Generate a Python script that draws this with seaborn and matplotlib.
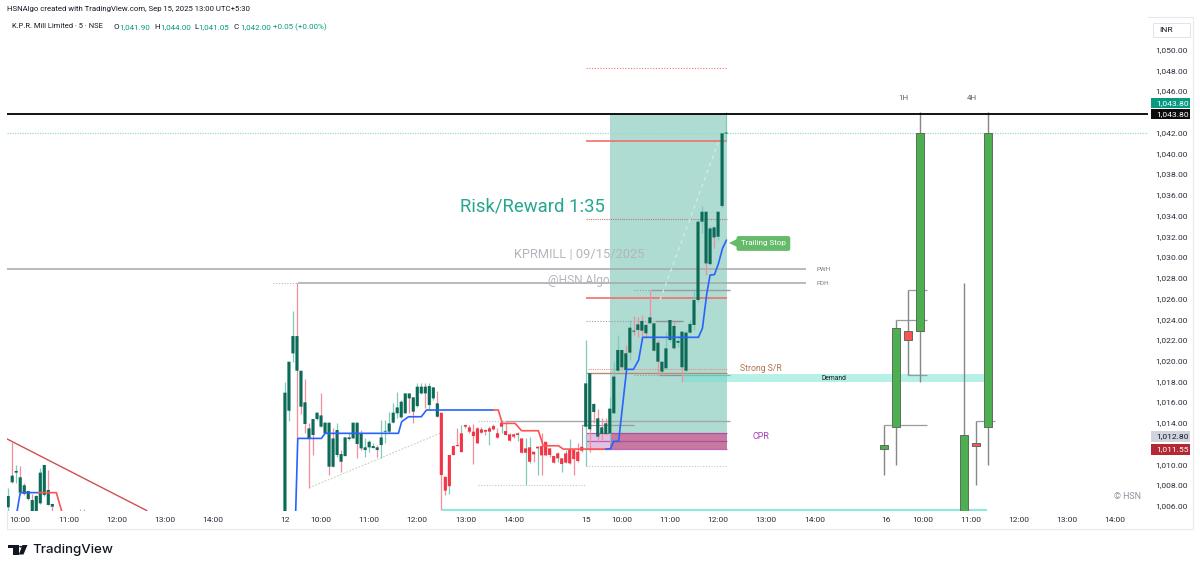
import matplotlib
matplotlib.use("Agg")
import matplotlib.pyplot as plt
from matplotlib.patches import Rectangle, Polygon, Circle
import numpy as np
import pandas as pd
import seaborn as sns

# 5 min candles, bar 0 = first bar of the 12th
d1_bars = [-69, -68, -67, -66, -65, -64, -63, -62, -61, -60, -59, -58, -51, -50]
d1_open = [1005.86, 1008.91, 1009.2, 1008.75, 1007.98, 1007.43, 1006.56, 1005.44, 1006.24, 1007.05, 1007.53, 1006.18, 1003.0, 1004.5]
d1_high = [1007.69, 1012.19, 1009.94, 1009.84, 1008.17, 1007.43, 1007.14, 1007.05, 1009.62, 1009.94, 1009.46, 1006.18, 1005.7, 1005.7]
d1_low = [1005.53, 1008.17, 1008.17, 1007.05, 1007.05, 1006.56, 1005.44, 1005.44, 1006.18, 1006.95, 1006.08, 1005.53, 1003.0, 1003.0]
d1_close = [1006.95, 1008.27, 1009.36, 1007.27, 1007.14, 1006.66, 1005.44, 1006.95, 1009.2, 1009.94, 1006.08, 1005.92, 1004.5, 1003.0]

d2_open = [1003.0, 1015.17, 1020.7, 1022.37, 1019.03, 1015.98, 1013.47, 1014.37, 1014.37, 1014.72,
           1012.99, 1014.02, 1012.5, 1010.9, 1010.99, 1010.8, 1012.44, 1012.5, 1014.02, 1012.99,
           1011.38, 1011.64, 1011.57, 1011.64, 1011.86, 1013.15, 1013.15, 1014.02, 1014.92, 1014.53,
           1014.92, 1016.84, 1016.46, 1015.62, 1016.84, 1017.49, 1015.72, 1016.36, 1015.88, 1014.98,
           1008.8, 1007.9, 1010.9, 1011.86, 1011.18, 1013.63, 1013.56, 1013.15, 1013.47, 1013.05,
           1013.31, 1013.15, 1013.37, 1013.0, 1013.63, 1013.21, 1012.89, 1012.89, 1012.83, 1012.5,
           1011.12, 1010.25, 1011.22, 1011.54, 1011.76, 1012.18, 1011.54, 1010.8, 1010.58, 1010.03,
           1010.16, 1010.09, 1011.38, 1011.22, 1011.31]
d2_high = [1017.97, 1019.9, 1024.82, 1027.45, 1019.03, 1018.2, 1014.02, 1014.37, 1015.08, 1016.91,
           1014.11, 1014.02, 1013.47, 1013.95, 1011.38, 1012.67, 1012.99, 1014.02, 1014.02, 1013.31,
           1012.5, 1012.34, 1012.02, 1011.86, 1014.27, 1014.27, 1015.08, 1015.88, 1016.94, 1016.2,
           1016.91, 1016.84, 1016.46, 1017.87, 1017.87, 1017.87, 1017.81, 1017.42, 1017.1, 1014.98,
           1008.8, 1010.9, 1011.86, 1013.47, 1013.79, 1013.89, 1013.79, 1013.89, 1013.56, 1013.56,
           1013.37, 1013.69, 1013.89, 1013.47, 1014.27, 1014.11, 1012.99, 1013.05, 1013.15, 1012.5,
           1012.5, 1012.67, 1011.22, 1011.76, 1012.99, 1012.18, 1011.54, 1010.8, 1011.22, 1010.58,
           1011.38, 1012.41, 1011.38, 1012.02, 1011.86]
d2_low = [1003.0, 1014.21, 1019.9, 1012.5, 1014.9, 1013.0, 1007.75, 1010.9, 1014.27, 1013.63,
          1012.99, 1008.97, 1009.77, 1010.74, 1009.29, 1010.8, 1012.34, 1012.5, 1010.58, 1011.38,
          1010.74, 1011.22, 1011.54, 1010.74, 1010.58, 1012.02, 1012.99, 1013.95, 1014.43, 1014.43,
          1014.92, 1014.98, 1014.02, 1015.56, 1016.77, 1015.4, 1015.3, 1016.2, 1014.59, 1005.59,
          1007.04, 1007.13, 1010.9, 1011.76, 1011.18, 1013.47, 1012.99, 1009.99, 1012.02, 1012.99,
          1012.83, 1011.86, 1013.31, 1012.5, 1012.99, 1012.83, 1012.28, 1012.5, 1012.28, 1011.12,
          1008.0, 1010.16, 1010.25, 1008.97, 1008.97, 1010.86, 1010.74, 1010.09, 1010.25, 1009.22,
          1010.09, 1010.03, 1008.97, 1010.25, 1011.22]
d2_close = [1016.91, 1019.9, 1022.37, 1019.03, 1015.56, 1013.89, 1012.44, 1012.83, 1014.98, 1013.63,
            1014.02, 1009.77, 1009.77, 1013.31, 1010.25, 1012.6, 1012.6, 1014.02, 1011.96, 1011.54,
            1011.64, 1012.18, 1011.76, 1011.38, 1012.6, 1013.21, 1013.95, 1014.98, 1015.49, 1016.04,
            1016.84, 1016.36, 1015.08, 1017.49, 1017.49, 1016.84, 1017.55, 1017.42, 1014.59, 1008.97,
            1007.46, 1010.9, 1011.76, 1011.76, 1012.99, 1013.79, 1013.15, 1012.73, 1012.02, 1013.37,
            1013.15, 1013.47, 1013.69, 1012.57, 1014.02, 1012.83, 1012.28, 1012.67, 1012.99, 1011.12,
            1011.54, 1011.64, 1010.96, 1011.7, 1010.86, 1010.86, 1010.9, 1010.16, 1011.06, 1010.58,
            1011.06, 1011.38, 1010.51, 1010.32, 1011.7]

d3_open = [1013.63, 1018.78, 1015.82, 1014.44, 1013.57, 1013.96, 1012.99, 1014.92, 1019.03, 1021.03,
           1020.71, 1020.77, 1022.89, 1023.5, 1023.83, 1023.44, 1024.18, 1023.6, 1021.73, 1018.94,
           1019.26, 1021.99, 1023.34, 1021.73, 1022.8, 1019.03, 1022.7, 1023.44, 1025.85, 1033.4,
           1034.36, 1029.31, 1032.85, 1031.95, 1034.91, 1041.9]
d3_high = [1022.0, 1018.78, 1015.88, 1015.3, 1014.44, 1014.44, 1016.53, 1019.9, 1022.48, 1021.03,
           1021.5, 1023.92, 1024.3, 1024.24, 1024.4, 1023.6, 1026.82, 1023.6, 1022.0, 1019.9,
           1022.8, 1023.92, 1023.75, 1022.5, 1022.8, 1023.0, 1023.92, 1026.9, 1033.6, 1034.9,
           1034.36, 1032.98, 1032.98, 1034.36, 1041.92, 1044.0]
d3_low = [1009.84, 1011.22, 1013.95, 1012.19, 1012.35, 1012.83, 1012.03, 1014.92, 1019.03, 1019.17,
          1019.1, 1020.06, 1022.5, 1022.31, 1022.06, 1022.15, 1023.6, 1020.96, 1018.62, 1018.84,
          1019.26, 1021.83, 1021.09, 1021.35, 1017.97, 1018.62, 1022.64, 1022.96, 1025.7, 1032.27,
          1028.25, 1029.2, 1030.82, 1031.63, 1034.8, 1041.05]
d3_close = [1017.81, 1013.38, 1015.05, 1012.67, 1012.93, 1012.93, 1015.37, 1018.46, 1021.03, 1019.36,
            1019.1, 1023.18, 1022.8, 1022.96, 1022.89, 1022.64, 1023.6, 1020.96, 1019.9, 1019.9,
            1021.19, 1023.92, 1021.19, 1021.9, 1019.36, 1022.7, 1023.54, 1025.85, 1033.4, 1034.36,
            1029.38, 1032.75, 1031.88, 1034.36, 1041.92, 1042.0]

# trailing stop pieces
blue_x = [-67, -66, -61.5]
blue_y = [1005.0, 1007.27, 1007.27]
red_x = [-61.5, -57, -55.3]
red_y = [1007.27, 1007.27, 1005.0]
blue2_x = [2.5, 3.2, 9.1, 10, 28.3, 29.1, 30.8, 34, 35.3, 52]
blue2_y = [1003.0, 1012.5, 1012.5, 1012.99, 1012.99, 1014.11, 1014.59, 1014.59, 1015.24, 1015.24]
red2_x = [52, 53.2, 54.2, 57.4, 59, 63.2, 64.4, 68.2, 69.4, 80]
red2_y = [1015.24, 1015.24, 1013.95, 1013.95, 1013.24, 1013.24, 1011.79, 1011.79, 1011.47, 1011.47]
blue3_x = [80, 81.2, 82, 83.2, 85.2, 86.9, 88.2, 89.2, 103.1, 104.1, 105.2, 106, 107.1, 108.1, 109.1, 110.1]
blue3_y = [1011.47, 1011.51, 1012.22, 1012.22, 1019.16, 1019.16, 1020.06, 1022.25, 1022.25, 1023.12,
           1026.5, 1028.25, 1028.3, 1029.37, 1030.82, 1031.63]

# higher timeframe candles on the right
htf_x = [149.3, 152.3, 155.3, 158.3, 169.3, 172.2, 175.2]
htf_open = [1011.5, 1013.64, 1022.9, 1022.86, 1005.0, 1012.05, 1013.64]
htf_close = [1011.85, 1023.15, 1021.95, 1042.0, 1012.8, 1011.8, 1042.0]
htf_high = [1013.8, 1023.9, 1026.8, 1044.0, 1027.45, 1014.2, 1044.0]
htf_low = [1009.0, 1009.9, 1018.65, 1017.97, 1005.0, 1008.0, 1009.9]

price_ticks = [1006, 1008, 1010, 1014, 1016, 1018, 1020, 1022, 1024, 1026, 1028, 1030,
               1032, 1034, 1036, 1038, 1040, 1042, 1046, 1048, 1050]
time_ticks = [-66, -54, -42, -30, -18, 0, 9, 21, 33, 45, 57, 75, 84, 96, 108, 120, 132,
              150, 159, 171, 183, 195, 207]
time_labels = ["10:00", "11:00", "12:00", "13:00", "14:00", "12", "10:00", "11:00", "12:00", "13:00", "14:00",
               "15", "10:00", "11:00", "12:00", "13:00", "14:00", "16", "10:00", "11:00", "12:00", "13:00", "14:00"]

W, H = 1200, 569
TEAL = "#089981"
DARK = "#0b6b58"
RED = "#f23645"
WICK_UP = "#7fcbb8"
WICK_DN = "#f58e98"
GREY = "#a9abb0"

sns.set_theme(style="white")
plt.rcParams["font.family"] = ["Roboto", "DejaVu Sans"]

fig = plt.figure(figsize=(12, 5.69), dpi=100, facecolor="white")
ax = fig.add_axes([7 / W, 1 - 511 / H, (1148 - 7) / W, (511 - 17) / H])
ax.set_xlim(-69.3, 215.2)
ax.set_ylim(1005.5, 1053.14)
for s in ax.spines.values():
    s.set_visible(False)
ax.yaxis.tick_right()
ax.set_yticks(price_ticks)
ax.set_yticklabels([f"{p:,.2f}" for p in price_ticks])
ax.set_xticks(time_ticks)
ax.set_xticklabels(time_labels)
ax.tick_params(axis="y", length=0, pad=5.2, labelsize=6.1, labelcolor="#2a2e39")
ax.tick_params(axis="x", length=0, pad=4.5, labelsize=6.1, labelcolor="#2a2e39")
ax.grid(False)


def level(y, x0, x1, color=GREY, lw=1.0, ls="-", z=2, alpha=1):
    ax.plot([x0, x1], [y, y], color=color, lw=lw, ls=ls, zorder=z, alpha=alpha, solid_capstyle="butt")


def trail(x, y, color):
    df = pd.DataFrame({"bar": x, "stop": y})
    sns.lineplot(data=df, x="bar", y="stop", ax=ax, color=color, lw=1.2, sort=False, estimator=None, zorder=6)


# zones
ax.add_patch(Rectangle((81.1, 1011.55), 110.2 - 81.1, 1043.8 - 1011.55, color="#aedbd2", lw=0, zorder=1))
ax.add_patch(Rectangle((75, 1011.5), 81.1 - 75, 1.5, color="#e2c0e2", lw=0, zorder=3))
ax.add_patch(Rectangle((81.1, 1011.5), 110.2 - 81.1, 1.5, color="#c77a9f", lw=0, zorder=3))
ax.add_patch(Rectangle((99.3, 1017.97), 174.6 - 99.3, 0.71, color="#6fe3d0", alpha=0.5, lw=0, zorder=3))
for y in [1013.0, 1012.25, 1011.5]:
    level(y, 75, 110.2, color="#a83aa8", lw=0.9, z=3, alpha=0.75)

# levels
level(1043.8, -69.3, 215.2, color="black", lw=1.3, z=8)
level(1042.0, -69.3, 215.2, color="#9fd8cb", lw=0.9, ls=(0, (1, 1)), z=2)
level(1048.2, 75, 110.2, color="#f0736f", lw=0.8, ls=(0, (1, 1.5)))
level(1033.63, 75, 110.2, color="#c07a70", lw=0.8, ls=(0, (1, 1)))
level(1041.2, 75, 110.2, color="#f2706c", lw=1.2)
level(1026.07, 75, 110.2, color="#f2706c", lw=1.2)
level(1028.84, -69.3, 130, color="#a5a7ad", lw=1.1)
level(1027.45, 3.2, 130, color="#a5a7ad", lw=1.1)
level(1027.45, -3, 3.2, color="#b5b7bc", lw=0.8, ls=(0, (1, 1.5)))
level(1026.82, 91.3, 111, color="#9a9ca3", lw=1.0)
level(1026.82, 87, 91.3, color="#9a9ca3", lw=0.8, ls=(0, (1, 1.5)))
level(1023.86, 75, 92.3, color="#9a9ca3", lw=0.8, ls=(0, (1, 1.5)))
level(1023.86, 92.3, 99.3, color="#8f9198", lw=1.0)
level(1019.16, 75.5, 110.2, color="#e58f8a", lw=0.8, ls=(0, (1, 1)))
level(1018.84, 75, 110.2, color="#b98a72", lw=1.0)
level(1018.65, 93.2, 111, color="#8f9198", lw=0.9)
level(1018.65, 87, 93.2, color="#9a9ca3", lw=0.8, ls=(0, (1, 1.5)))
level(1014.21, 54.9, 111, color="#a5a7ad", lw=1.0)
level(1014.21, 48.1, 54.9, color="#b5b7bc", lw=0.8, ls=(0, (1, 1.5)))
level(1013.76, 74, 87, color="#9a9ca3", lw=0.9)
level(1009.84, 75, 110.2, color="#c5c7cc", lw=0.8, ls=(0, (1, 1.5)))
level(1008.0, 48.1, 74.8, color="#c5c7cc", lw=0.8, ls=(0, (1, 1.5)))
level(1005.62, 39.2, 175.0, color="#8fe9da", lw=1.6, z=3)
ax.plot([74, 74], [1013.76, 1011.5], color="#9a9ca3", lw=0.8, zorder=2)
ax.plot([6.07, 38.65], [1007.75, 1012.99], color="#b9d8b8", lw=0.8, ls=(0, (1.5, 1.5)), zorder=2)
ax.plot([93.5, 108], [1025.85, 1041.0], color="#d3ece7", lw=0.9, ls=(0, (3, 3)), zorder=2)
ax.plot([-69.3, -34.4], [1012.45, 1005.53], color="#cf4f53", lw=1.0, zorder=4)

# candles
bars = pd.DataFrame({
    "bar": d1_bars + list(range(75)) + list(range(75, 111)),
    "open": d1_open + d2_open + d3_open,
    "high": d1_high + d2_high + d3_high,
    "low": d1_low + d2_low + d3_low,
    "close": d1_close + d2_close + d3_close,
})
up = bars["close"] >= bars["open"]
bear = (bars["bar"] >= 39) & (bars["bar"] < 75)
ax.vlines(bars["bar"], bars["low"], bars["high"], colors=np.where(up, WICK_UP, WICK_DN), lw=0.9, zorder=4)
bodies = ax.bar(bars["bar"], (bars["close"] - bars["open"]).abs().clip(lower=0.08),
                bottom=bars[["open", "close"]].min(axis=1), width=0.78, color=np.where(bear, RED, DARK), lw=0, zorder=5)
# no pixel snapping, otherwise neighbouring bodies merge
for p in bodies:
    p.set_snap(False)

trail(blue_x, blue_y, "#2962ff")
trail(red_x, red_y, "#ff5252")
trail(blue2_x, blue2_y, "#2962ff")
trail(red2_x, red2_y, "#ff5252")
trail(blue3_x, blue3_y, "#2962ff")
ax.set_xlabel("")
ax.set_ylabel("")

# higher timeframe section
for i in range(len(htf_x)):
    up_bar = htf_close[i] >= htf_open[i]
    ax.vlines(htf_x[i], htf_low[i], htf_high[i], colors="#85878d", lw=1.0, zorder=6)
    ax.bar(htf_x[i], abs(htf_close[i] - htf_open[i]), bottom=min(htf_open[i], htf_close[i]),
           width=2.0, color="#4caf50" if up_bar else "#ff5252", edgecolor="#5f6b60", lw=0.7, zorder=7)
level(1013.8, 149.3, 160, color="#9a9ca3", lw=0.9, z=5)
level(1023.9, 152.3, 160, color="#9a9ca3", lw=0.9, z=5)
level(1018.65, 155.3, 160, color="#9a9ca3", lw=0.9, z=5)
level(1026.8, 155.3, 160, color="#9a9ca3", lw=0.9, z=5)
level(1014.2, 172.2, 177, color="#9a9ca3", lw=0.9, z=5)

# chart text
ax.text(79.8, 1034.82, "Risk/Reward 1:35", color="#26a68f", fontsize=13.3, ha="right", va="center", zorder=9)
ax.text(73.3, 1030.2, "KPRMILL | 09/15/2025", color="#b4b6bd", fontsize=9.3, ha="center", va="center", zorder=9)
ax.text(73.2, 1027.7, "@HSN Algo", color="#b4b6bd", fontsize=8.6, ha="center", va="center", zorder=9)
ax.text(132.5, 1028.82, "PWH", color="#787b86", fontsize=4.6, va="center", zorder=9)
ax.text(132.5, 1027.43, "PDH", color="#787b86", fontsize=4.6, va="center", zorder=9)
ax.text(113.5, 1019.26, "Strong S/R", color="#b5714d", fontsize=6.2, va="center", zorder=9)
ax.text(137, 1018.3, "Demand", color="#131722", fontsize=4.9, ha="center", va="center", zorder=9)
ax.text(116.5, 1012.73, "CPR", color="#a63bb8", fontsize=6.4, va="center", zorder=9)
ax.text(154.1, 1045.3, "1H", color="#5d606b", fontsize=5.8, ha="center", va="center")
ax.text(171.3, 1045.3, "4H", color="#5d606b", fontsize=5.8, ha="center", va="center")
ax.text(213.4, 1006.88, "© HSN", color="#8f929c", fontsize=6.4, ha="right", va="center")
ax.text(119.3, 1031.3, "Trailing Stop", color="white", fontsize=5.8, ha="center", va="center", zorder=10,
        bbox=dict(boxstyle="round,pad=0.55,rounding_size=0.25", fc="#66bb6a", ec="none"))
ax.plot([111.9], [1031.3], marker="<", ms=7, color="#66bb6a", mew=0, zorder=10)


# figure level furniture, in pixels
def fbox(x0, y0, x1, y1, **kw):
    fig.add_artist(Rectangle((x0 / W, 1 - y1 / H), (x1 - x0) / W, (y1 - y0) / H, transform=fig.transFigure, **kw))


def ftext(x, y, s, **kw):
    kw.setdefault("fontsize", 6.1)
    kw.setdefault("color", "#131722")
    kw.setdefault("va", "center")
    fig.text(x / W, 1 - y / H, s, **kw)


fbox(7, 17, 1193, 529, fc="none", ec="#e6e8ee", lw=0.8, zorder=0)
fbox(1153, 23, 1190, 37, fc="white", ec="#e0e3eb", lw=0.7)
ftext(1159, 29.5, "INR", fontsize=6.1)

ftext(7, 9.5, "HSNAlgo created with TradingView.com, Sep 15, 2025 13:00 UTC+5:30", fontsize=5.6)
ftext(12, 27, "K.P.R. Mill Limited · 5 · NSE", fontsize=5.4)
for x, label, value in [(113, "O", "1,041.90"), (154, "H", "1,044.00"), (194, "L", "1,041.05"), (234, "C", "1,042.00")]:
    ftext(x, 27, label, fontsize=5.8)
    ftext(x + 6 if label != "L" else x + 4.5, 27, value, fontsize=5.8, color=TEAL)
ftext(273, 27, "+0.05 (+0.00%)", fontsize=5.8, color=TEAL)

for y0, y1, fc, txt, tc in [(98.3, 107.7, TEAL, "1,043.80", "white"),
                            (109.3, 119.3, "#0c0c0c", "1,043.80", "white"),
                            (430.7, 441.5, "#d1d4dc", "1,012.80", "#131722"),
                            (444, 454.5, "#b22833", "1,011.55", "white")]:
    fbox(1151, y0, 1190, y1, fc=fc, ec="none", zorder=5)
    ftext(1156, (y0 + y1) / 2, txt, color=tc, zorder=6)

# TradingView mark
fig.add_artist(Polygon([(7.5 / W, 1 - 545 / H), (19.3 / W, 1 - 545 / H), (19.3 / W, 1 - 554.5 / H),
                        (13.3 / W, 1 - 554.5 / H), (13.3 / W, 1 - 548.3 / H), (7.5 / W, 1 - 548.3 / H)],
                       transform=fig.transFigure, fc="#131722", ec="none"))
fig.add_artist(Polygon([(22.5 / W, 1 - 545 / H), (27.5 / W, 1 - 545 / H), (23.5 / W, 1 - 554.5 / H), (18.8 / W, 1 - 554.5 / H)],
                       transform=fig.transFigure, fc="#131722", ec="none"))
fig.add_artist(Circle((20.8 / W, 1 - 546.7 / H), 0.0014, transform=fig.transFigure, fc="#131722", ec="none"))
ftext(32, 549.5, "TradingView", fontsize=9.6, family="Inter", weight="medium")

fig.savefig("out.png", dpi=100)
